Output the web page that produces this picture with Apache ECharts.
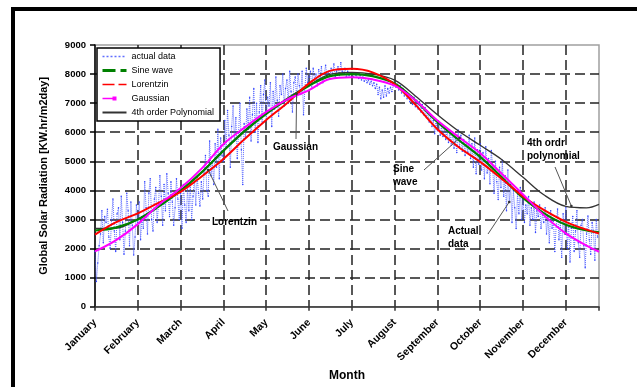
<!DOCTYPE html>
<html>
<head>
<meta charset="utf-8">
<script src="https://cdn.jsdelivr.net/npm/echarts@6/dist/echarts.min.js"></script>
<style>
  html, body { margin: 0; padding: 0; background: #fff; }
  #chart { width: 637px; height: 387px; }
</style>
</head>
<body>
<div id="chart"></div>
<script>
// Month labels, one every 31 days along the day-of-year axis
const months = ['January', 'February', 'March', 'April', 'May', 'June',
  'July', 'August', 'September', 'October', 'November', 'December'];

// Measured daily global solar radiation (KW.hr/m2day), days 0..364
const actualData = [
  1900, 870, 1500, 2100, 2500, 3300, 2200, 3100, 2900, 3350, 2400, 2000, 3000, 3700, 2600, 1900, 3200, 3400, 2300, 3800, 2900, 1800, 2600, 3900, 3300, 2100, 3600, 2800, 1780, 2400, 3500,
  2900, 3600, 2300, 3100, 2700, 4300, 3400, 2500, 3900, 4400, 3000, 2600, 3700, 4100, 2900, 3500, 4500, 3800, 2800, 4200, 3300, 4570, 3900, 3100, 4300, 3600, 2800, 3400, 4400, 3700, 3000,
  3900, 2700, 4200, 3500, 2900, 4100, 3300, 4230, 3000, 3800, 4400, 3500, 4470, 3900, 3460, 4300, 3700, 4600, 5200, 4000, 3800, 5700, 4500, 5000, 4200, 5600, 4800, 6100, 4400, 5800, 5200,
  5000, 6400, 5500, 6750, 5900, 4800, 6200, 6900, 5700, 6500, 5100, 6000, 7000, 5400, 4200, 6300, 5800, 6800, 6100, 7200, 5700, 6600, 7500, 6000, 7000, 5650, 6700, 7600, 6300, 7300, 7800,
  6400, 7200, 6900, 7700, 6200, 7400, 6800, 7900, 7100, 6550, 7600, 7300, 8000, 6900, 7500, 7800, 7000, 8100, 7400, 6700, 7700, 7900, 7200, 8000, 7600, 7300, 8100, 6600, 7500, 8200, 7700,
  7900, 8100, 7500, 8200, 7800, 8000, 7600, 8150, 7900, 8250, 7700, 8000, 8300, 7950, 8100, 7850, 8200, 8000, 8350, 7900, 8100, 8250, 7950, 8390, 8100, 8000, 8200, 7900, 8100, 7950, 8050,
  8000, 7900, 8050, 7950, 8000, 7850, 7950, 7800, 7900, 7750, 7850, 7700, 7800, 7650, 7750, 7600, 7700, 7500, 7650, 7300, 7550, 7150, 7450, 7200, 7600, 7250, 7500, 7350, 7550, 7400, 7600,
  7700, 7550, 7650, 7450, 7600, 7350, 7500, 7250, 7400, 7150, 7320, 7050, 7250, 6950, 7200, 6880, 7100, 6800, 7050, 6700, 6950, 6600, 6850, 6500, 6700, 6350, 6550, 6200, 6400, 5950, 6300,
  6050, 6350, 5900, 6200, 5850, 6150, 5750, 6050, 5650, 5950, 5550, 6000, 5450, 5800, 5300, 6080, 5500, 5900, 5350, 5750, 5200, 5650, 5300, 5900, 5100, 5600, 4800, 5800, 4570, 5400, 4900,
  5600, 4700, 5300, 4400, 5500, 4600, 5100, 4230, 5370, 4800, 3900, 5000, 4300, 3690, 4800, 4100, 5040, 3800, 4500, 3300, 4700, 3600, 4200, 2900, 4000, 3400, 2690, 3900, 3200, 4100, 3000,
  3700, 2900, 3500, 3200, 3790, 2800, 3400, 3000, 3600, 2550, 3300, 3100, 3500, 2700, 3200, 2900, 3400, 2500, 3100, 2200, 3300, 2700, 3000, 1900, 2800, 3360, 2300, 2900, 1700, 3200, 2500,
  3400, 2000, 2900, 1540, 2700, 3100, 1900, 2600, 3300, 2200, 1700, 2800, 3000, 2100, 1340, 2500, 3120, 2300, 1800, 2900, 2600, 1600, 3000, 2400
];

// Days at which the fitted curves are sampled
const fitDays = [0, 15, 31, 46, 62, 77, 93, 108, 124, 139, 155, 170, 186, 201, 217, 232, 248, 263, 279, 294, 310, 325, 341, 356, 365];

// Fitted models, values at fitDays
const sineWave = [2620, 2720, 3000, 3440, 3990, 4610, 5360, 6020, 6630, 7120, 7600, 7930, 8000, 7930, 7680, 7100, 6350, 5750, 5150, 4480, 3740, 3220, 2820, 2620, 2560];
const lorentzin = [2480, 2900, 3210, 3570, 3950, 4470, 5080, 5750, 6420, 7000, 7680, 8110, 8180, 8060, 7650, 6950, 6100, 5500, 4980, 4420, 3790, 3330, 2920, 2650, 2520];
const gaussian = [1900, 2280, 2840, 3500, 4080, 4740, 5590, 6150, 6700, 7120, 7450, 7830, 7890, 7820, 7600, 7100, 6400, 5850, 5280, 4600, 3860, 3150, 2520, 2100, 1890];
const polynomial = [2690, 2700, 3010, 3450, 4000, 4620, 5380, 6050, 6650, 7160, 7620, 7990, 8060, 8000, 7790, 7250, 6600, 6050, 5550, 5080, 4450, 3850, 3450, 3400, 3520];

const FONT = 'Liberation Sans, Arial, sans-serif';

const pairs = (xs, ys) => xs.map((x, i) => [x, ys[i]]);

const chart = echarts.init(document.getElementById('chart'), null, { renderer: 'canvas' });

const gridDash = { color: '#222', width: 1.5, type: [10, 5] };
const hiddenSymbol = { opacity: 0 };

chart.setOption({
  animation: false,
  backgroundColor: '#fff',
  grid: {
    left: 95, top: 45, right: 38, bottom: 74,
    show: true, borderColor: '#a0a0a0', borderWidth: 1.5, backgroundColor: '#fff'
  },
  legend: {
    orient: 'vertical',
    left: 97, top: 48,
    itemWidth: 24, itemHeight: 5, itemGap: 5,
    padding: [4, 6, 4, 4],
    borderColor: '#000', borderWidth: 1.5, backgroundColor: '#fff',
    textStyle: { fontSize: 9, color: '#000', fontFamily: FONT },
    data: [
      { name: 'actual data', itemStyle: hiddenSymbol, lineStyle: { type: [2, 2], width: 1.5 } },
      { name: 'Sine wave', itemStyle: hiddenSymbol, lineStyle: { type: [13, 5], width: 3 } },
      { name: 'Lorentzin', itemStyle: hiddenSymbol, lineStyle: { type: [12, 4], width: 1.3 } },
      { name: 'Gaussian', lineStyle: { type: [11, 13], width: 1.5 } },
      { name: '4th order Polynomial', itemStyle: hiddenSymbol }
    ]
  },
  xAxis: {
    type: 'value',
    min: 0, max: 365, interval: 31,
    name: 'Month',
    nameLocation: 'middle',
    nameGap: 58,
    nameTextStyle: { fontSize: 12, fontWeight: 'bold', color: '#000', fontFamily: FONT },
    axisLine: { lineStyle: { color: '#333', width: 1.5 } },
    axisTick: { show: true, length: 4, lineStyle: { color: '#333', width: 1.5 } },
    axisLabel: {
      rotate: 45, margin: 14,
      fontSize: 10.5, fontWeight: 'bold', color: '#000', fontFamily: FONT,
      formatter: v => (v % 31 === 0 && v / 31 < months.length) ? months[v / 31] : ''
    },
    splitLine: { show: true, showMinLine: false, showMaxLine: false, lineStyle: gridDash }
  },
  yAxis: {
    type: 'value',
    min: 0, max: 9000, interval: 1000,
    name: 'Global Solar Radiation [KW.hr/m2day]',
    nameLocation: 'middle',
    nameGap: 46,
    nameTextStyle: { fontSize: 11, fontWeight: 'bold', color: '#000', fontFamily: FONT },
    axisLine: { show: true, lineStyle: { color: '#000', width: 1.5 } },
    axisTick: { show: true, length: 5, lineStyle: { color: '#000', width: 1.5 } },
    axisLabel: {
      margin: 9, fontSize: 9.5, fontWeight: 'bold', color: '#000', fontFamily: FONT,
      formatter: v => String(v)
    },
    splitLine: { show: true, showMinLine: false, showMaxLine: false, lineStyle: gridDash }
  },
  series: [
    {
      name: 'actual data', type: 'line',
      data: actualData.map((v, i) => [i, v]),
      symbol: 'circle', symbolSize: 1.5, showSymbol: true,
      itemStyle: { color: '#3344ff' },
      lineStyle: { color: '#4455ff', width: 1, type: 'dotted', opacity: 0.85 },
      z: 1
    },
    {
      name: '4th order Polynomial', type: 'line', smooth: 0.35,
      data: pairs(fitDays, polynomial),
      symbol: 'none',
      lineStyle: { color: '#333', width: 1.3 },
      itemStyle: { color: '#333' },
      z: 2
    },
    {
      name: 'Sine wave', type: 'line', smooth: 0.35,
      data: pairs(fitDays, sineWave),
      symbol: 'none',
      lineStyle: { color: '#008000', width: 2.2 },
      itemStyle: { color: '#008000' },
      z: 3
    },
    {
      name: 'Lorentzin', type: 'line', smooth: 0.35,
      data: pairs(fitDays, lorentzin),
      symbol: 'none',
      lineStyle: { color: '#ff0000', width: 2 },
      itemStyle: { color: '#ff0000' },
      z: 4
    },
    {
      name: 'Gaussian', type: 'line', smooth: 0.35,
      data: pairs(fitDays, gaussian),
      symbol: 'rect', showSymbol: false,
      lineStyle: { color: '#ff00ff', width: 2 },
      itemStyle: { color: '#ff00ff' },
      z: 5
    }
  ]
});

// Callout labels with pointer lines to the curve they describe
const notes = [
  { text: 'Gaussian', x: 273, y: 141, from: [296, 139], at: [146, 7320] },
  { text: 'Lorentzin', x: 212, y: 216, from: [228, 211], at: [82, 4700] },
  { text: 'Sine\nwave', x: 393, y: 163, from: [424, 170], at: [264, 5800] },
  { text: 'Actual\ndata', x: 448, y: 225, from: [488, 234], at: [300, 3600] },
  { text: '4th ordr\npolynomial', x: 527, y: 137, from: [555, 167], at: [345, 3460] }
];

const graphics = [
  // outer frame
  { type: 'rect', shape: { x: 11, y: 7, width: 640, height: 4 }, style: { fill: '#000' }, z: 100 },
  { type: 'rect', shape: { x: 11, y: 7, width: 4, height: 400 }, style: { fill: '#000' }, z: 100 }
];

notes.forEach(n => {
  const p = chart.convertToPixel({ gridIndex: 0 }, n.at);
  graphics.push({
    type: 'line', z: 50,
    shape: { x1: n.from[0], y1: n.from[1], x2: p[0], y2: p[1] },
    style: { stroke: '#555', lineWidth: 1 }
  });
  graphics.push({
    type: 'circle', z: 50,
    shape: { cx: p[0], cy: p[1], r: 1.3 },
    style: { fill: '#333' }
  });
  graphics.push({
    type: 'text', z: 51, x: n.x, y: n.y,
    style: {
      text: n.text, fill: '#000', fontSize: 10, fontWeight: 'bold',
      fontFamily: FONT, lineHeight: 13
    }
  });
});

chart.setOption({ graphic: graphics });
</script>
</body>
</html>
